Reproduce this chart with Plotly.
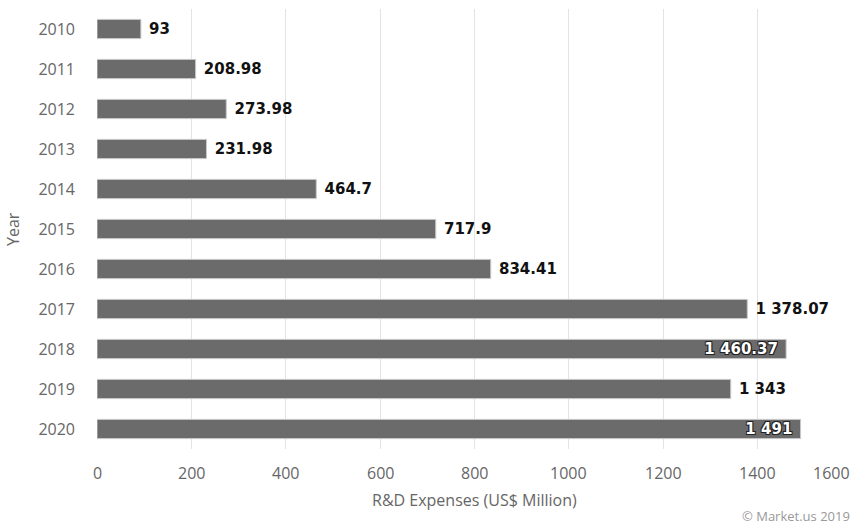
import plotly.graph_objects as go

years = ["2010", "2011", "2012", "2013", "2014", "2015", "2016", "2017", "2018", "2019", "2020"]
values = [93, 208.98, 273.98, 231.98, 464.7, 717.9, 834.41, 1378.07, 1460.37, 1343, 1491]
inside_years = ["2018", "2020"]
x_ticks = [0, 200, 400, 600, 800, 1000, 1200, 1400, 1600]

NB = "\u00a0"

def fmt(v):
    s = f"{v:,.2f}".rstrip("0").rstrip(".")
    return s.replace(",", NB)

texts, positions = [], []
for y, v in zip(years, values):
    if y in inside_years:
        texts.append(fmt(v) + NB)
        positions.append("inside")
    else:
        texts.append(NB + fmt(v))
        positions.append("outside")

fig = go.Figure()
fig.add_trace(go.Bar(
    y=years, x=values, orientation="h",
    marker=dict(color="#6b6b6b", line=dict(color="#c8c8c8", width=1)),
    text=texts, textposition=positions,
    insidetextanchor="end",
    constraintext="none",
    cliponaxis=False,
    insidetextfont=dict(family="DejaVu Sans", size=15, color="#ffffff", weight="bold",
                        shadow="-1px -1px 0 #222, 1px -1px 0 #222, -1px 1px 0 #222, 1px 1px 0 #222"),
    outsidetextfont=dict(family="DejaVu Sans", size=15, color="#111111", weight="bold"),
    hoverinfo="skip",
))

plot_left, plot_right = 97, 852
tick_font = dict(family="Open Sans", size=16, color="#666666")

annotations = []
for t in x_ticks:
    if t == x_ticks[-1]:
        annotations.append(dict(x=1, xref="paper", y=-0.025, yref="paper", text=str(t),
                                showarrow=False, xanchor="right", yanchor="top", font=tick_font))
    else:
        annotations.append(dict(x=t, xref="x", y=-0.025, yref="paper", text=str(t),
                                showarrow=False, xanchor="center", yanchor="top", font=tick_font))

annotations.append(dict(x=0.5, xref="paper", y=-0.087, yref="paper", text="R&D Expenses (US$ Million)",
                        showarrow=False, xanchor="center", yanchor="top", font=tick_font))
annotations.append(dict(x=(13 - plot_left) / (plot_right - plot_left), xref="paper", y=0.5, yref="paper",
                        text="Year", showarrow=False, textangle=-90, xanchor="center", yanchor="middle",
                        font=tick_font))
annotations.append(dict(x=1, xref="paper", y=-0.127, yref="paper", text="© Market.us 2019",
                        showarrow=False, xanchor="right", yanchor="top",
                        font=dict(family="Open Sans", size=13, color="#999999")))

fig.update_layout(
    width=853, height=527,
    margin=dict(l=plot_left, r=853 - plot_right, t=9, b=78, autoexpand=False),
    paper_bgcolor="white", plot_bgcolor="white",
    bargap=0.52,
    showlegend=False,
    annotations=annotations,
    xaxis=dict(range=[0, 1600], tickvals=x_ticks, showticklabels=False,
               showgrid=True, gridcolor="#e3e3e3", gridwidth=1,
               zeroline=False, showline=False, ticks="", automargin=False),
    yaxis=dict(type="category", autorange="reversed", showgrid=False,
               zeroline=False, showline=False, ticks="", automargin=False,
               ticklabelstandoff=21, tickfont=tick_font),
)

fig.write_html("out.html", config={"displayModeBar": False},
               post_script="document.body.style.margin='0';document.body.style.overflow='hidden';")
